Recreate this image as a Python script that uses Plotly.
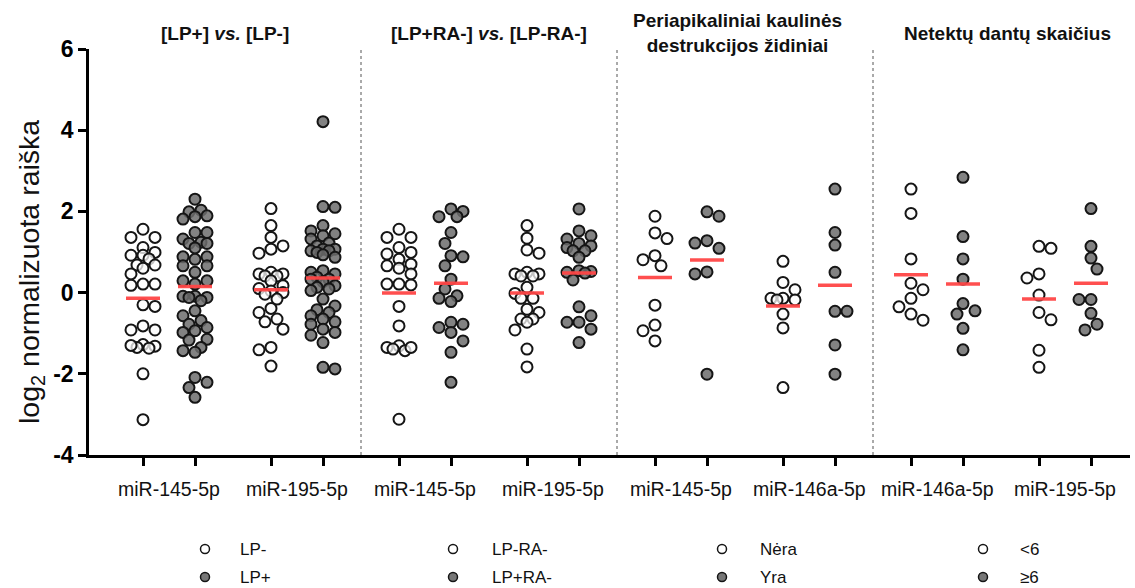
import plotly.graph_objects as go

# ---------------- data ----------------
panel_titles = [
    "[LP+] <i>vs.</i> [LP-]",
    "[LP+RA-] <i>vs.</i> [LP-RA-]",
    "Periapikaliniai kaulinės<br>destrukcijos židiniai",
    "Netektų dantų skaičius",
]
panel_genes = [
    ["miR-145-5p", "miR-195-5p"],
    ["miR-145-5p", "miR-195-5p"],
    ["miR-145-5p", "miR-146a-5p"],
    ["miR-146a-5p", "miR-195-5p"],
]
panel_groups = [
    ["LP-", "LP+"],
    ["LP-RA-", "LP+RA-"],
    ["Nėra", "Yra"],
    ["&lt;6", "≥6"],
]

# panel 1: [LP+] vs [LP-]
p1_mir145_lpneg = [1.56, 1.36, 1.36, 1.11, 0.99, 0.92, 0.92, 0.83, 0.68, 0.68, 0.60, 0.46, 0.21, 0.21, 0.18,
                   -0.30, -0.34, -0.82, -0.92, -0.92, -1.28, -1.32, -1.37, -1.35, -1.30, -2.00, -3.13]
p1_mir145_lppos = [2.30, 2.03, 1.99, 1.89, 1.87, 1.81, 1.48, 1.48, 1.32, 1.24, 1.21, 1.21, 1.10, 0.88, 0.82, 0.88,
                   0.66, 0.66, 0.50, 0.29, 0.29, 0.21, -0.09, -0.09, -0.12, -0.12, -0.20, -0.45, -0.57, -0.69,
                   -0.78, -0.86, -0.94, -0.98, -1.15, -1.17, -1.35, -1.43, -1.47, -2.09, -2.21, -2.34, -2.58]
p1_mir195_lpneg = [2.07, 1.65, 1.36, 1.15, 1.07, 0.97, 0.50, 0.46, 0.46, 0.41, 0.41, 0.29, 0.17, 0.10, 0.04,
                   0.00, -0.04, -0.16, -0.39, -0.49, -0.65, -0.72, -0.90, -1.35, -1.41, -1.81]
p1_mir195_lppos = [4.21, 2.12, 2.10, 1.65, 1.52, 1.45, 1.40, 1.32, 1.22, 1.15, 1.07, 1.07, 1.03, 1.03, 0.99,
                   0.93, 0.87, 0.54, 0.50, 0.46, 0.38, 0.33, 0.33, 0.27, 0.17, 0.13, 0.09, 0.05, -0.16, -0.33,
                   -0.42, -0.49, -0.57, -0.65, -0.72, -0.78, -0.90, -0.98, -1.05, -1.23, -1.84, -1.88]
# panel 2: [LP+RA-] vs [LP-RA-]
p2_mir145_neg = [1.56, 1.36, 1.36, 1.11, 0.99, 0.95, 0.82, 0.70, 0.66, 0.60, 0.46, 0.21, 0.21, 0.19,
                 -0.34, -0.82, -1.31, -1.35, -1.43, -1.35, -1.39, -3.12]
p2_mir145_pos = [2.06, 2.00, 1.87, 1.87, 1.48, 1.21, 0.91, 0.88, 0.66, 0.33, 0.09, -0.08, -0.14, -0.22,
                 -0.73, -0.78, -0.86, -0.98, -1.19, -1.47, -2.21]
p2_mir195_neg = [1.65, 1.34, 1.05, 0.97, 0.46, 0.50, 0.41, 0.46, 0.41, 0.13, -0.02, -0.14, -0.14, -0.41,
                 -0.49, -0.65, -0.65, -0.73, -0.92, -1.39, -1.83]
p2_mir195_pos = [2.06, 1.52, 1.40, 1.32, 1.21, 1.15, 1.11, 1.03, 1.03, 0.87, 0.54, 0.52, 0.48, 0.50, 0.31,
                 -0.35, -0.57, -0.73, -0.73, -0.90, -1.23]
# panel 3: periapical lesions
p3_mir145_no = [1.88, 1.47, 1.33, 0.91, 0.81, 0.66, -0.31, -0.80, -0.94, -1.19]
p3_mir145_yes = [1.99, 1.88, 1.28, 1.22, 1.09, 0.51, 0.46, -2.01]
p3_mir146a_no = [0.77, 0.25, 0.07, -0.14, -0.18, -0.14, -0.18, -0.53, -0.87, -2.34]
p3_mir146a_yes = [2.55, 1.48, 1.17, 0.50, -0.46, -0.46, -1.29, -2.01]
# panel 4: number of lost teeth
p4_mir146a_lt6 = [2.55, 1.95, 0.83, 0.23, 0.07, -0.14, -0.35, -0.53, -0.68]
p4_mir146a_ge6 = [2.84, 1.38, 0.83, 0.33, -0.27, -0.45, -0.53, -0.88, -1.41]
p4_mir195_lt6 = [1.09, 1.14, 0.46, 0.36, -0.06, -0.49, -0.67, -1.42, -1.84]
p4_mir195_ge6 = [2.07, 1.14, 0.85, 0.58, -0.17, -0.17, -0.51, -0.78, -0.92]

# group means (red bars)
p1_means = [-0.14, 0.15, 0.07, 0.36]
p2_means = [-0.01, 0.23, -0.01, 0.48]
p3_means = [0.37, 0.80, -0.33, 0.18]
p4_means = [0.44, 0.21, -0.16, 0.23]

y_ticks = [-4, -2, 0, 2, 4, 6]
y_tick_text = ["-4", "-2", "0", "2", "4", "6"]
y_title = "log<sub>2</sub> normalizuota raiška"

panels = [
    [p1_mir145_lpneg, p1_mir145_lppos, p1_mir195_lpneg, p1_mir195_lppos],
    [p2_mir145_neg, p2_mir145_pos, p2_mir195_neg, p2_mir195_pos],
    [p3_mir145_no, p3_mir145_yes, p3_mir146a_no, p3_mir146a_yes],
    [p4_mir146a_lt6, p4_mir146a_ge6, p4_mir195_lt6, p4_mir195_ge6],
]
panel_means = [p1_means, p2_means, p3_means, p4_means]

# ---------------- layout geometry ----------------
W, H = 1135, 588
ML, MR, MT, MB = 89, 5, 49, 133
X0, X1 = -16, 1025            # x axis range (1 unit = 1 px)
YMIN, YMAX = -4, 6
PX_PER_UNIT = (H - MT - MB) / (YMAX - YMIN)
PANEL_W = 256
COL_OFF = [38, 90, 166, 218]
PAIR_OFF = [64, 192]

OPEN_FILL = "rgba(252,252,252,0.75)"
GRAY_FILL = "rgba(108,108,108,0.85)"
EDGE = "#151515"
RED = "rgba(255,70,70,0.95)"
FONT = "Arial, Liberation Sans, sans-serif"


def swarm(values, d=11.0, step=6.0, max_slot=2):
    """GraphPad-like scatter spreading: horizontal offsets (px) in slots of `step`."""
    order = sorted(range(len(values)), key=lambda i: -values[i])
    placed = []
    offs = [0.0] * len(values)
    for i in order:
        y = values[i] * PX_PER_UNIT
        bias = sum(p[0] for p in placed)
        cands = [0.0]
        for m in range(1, max_slot + 1):
            cands += [-m * step, m * step] if bias > 0 else [m * step, -m * step]

        def mind(c):
            if not placed:
                return 1e9
            return min(((c - px) ** 2 + (y - py) ** 2) ** 0.5 for px, py in placed)

        chosen = None
        for c in cands:
            if mind(c) >= d:
                chosen = c
                break
        if chosen is None:
            chosen = max(cands, key=lambda c: (round(mind(c), 3), -abs(c)))
        offs[i] = chosen
        placed.append((chosen, y))
    return offs


fig = go.Figure()

mean_x, mean_y = [], []
tick_positions = []
for p, cols in enumerate(panels):
    for c, vals in enumerate(cols):
        center = p * PANEL_W + COL_OFF[c]
        tick_positions.append(center)
        offs = swarm(vals)
        is_open = (c % 2 == 0)
        fig.add_trace(go.Scatter(
            x=[center + o for o in offs], y=vals, mode="markers",
            marker=dict(size=11, color=OPEN_FILL if is_open else GRAY_FILL,
                        line=dict(color=EDGE, width=2)),
            showlegend=False, hoverinfo="y",
            name=f"{panel_genes[p][c // 2]} {panel_groups[p][c % 2]}",
        ))
        m = panel_means[p][c]
        mean_x += [center - 17, center + 17, None]
        mean_y += [m, m, None]

fig.add_trace(go.Scatter(x=mean_x, y=mean_y, mode="lines",
                         line=dict(color=RED, width=3.5), showlegend=False, hoverinfo="skip"))

shapes = []
annotations = []
# dotted panel dividers
for p in range(1, 4):
    shapes.append(dict(type="line", xref="x", yref="y", x0=p * PANEL_W, x1=p * PANEL_W,
                       y0=YMIN, y1=YMAX, line=dict(color="#555", width=1, dash="dot"), layer="below"))

plot_h = H - MT - MB


def py2paper(py):
    return (H - MB - py) / plot_h


title_x = [225 - 105, 489 - 105, 737 - 105, 1007 - 105]
for p in range(4):
    annotations.append(dict(text=f"<b>{panel_titles[p]}</b>", x=title_x[p], xref="x",
                            y=py2paper(33), yref="paper", showarrow=False,
                            xanchor="center", yanchor="middle",
                            font=dict(family=FONT, size=19, color="#111")))
    for g in range(2):
        annotations.append(dict(text=panel_genes[p][g], x=p * PANEL_W + PAIR_OFF[g], xref="x",
                                y=py2paper(489), yref="paper", showarrow=False,
                                xanchor="center", yanchor="middle",
                                font=dict(family=FONT, size=19.5, color="#111")))

# bottom legends (one per panel)
legend_marker_x = [205, 453, 722, 983]
legend_text_x = [238, 490, 758, 1018]
legend_rows = [549, 577]
for p in range(4):
    for k in range(2):
        shapes.append(dict(type="circle", xref="x", yref="paper", xsizemode="pixel", ysizemode="pixel",
                           xanchor=legend_marker_x[p] - 105, yanchor=py2paper(legend_rows[k]),
                           x0=-4.5, x1=4.5, y0=-4.5, y1=4.5,
                           fillcolor="white" if k == 0 else "#777",
                           line=dict(color=EDGE, width=1.5)))
        annotations.append(dict(text=panel_groups[p][k], x=legend_text_x[p] - 105, xref="x",
                                y=py2paper(legend_rows[k]), yref="paper", showarrow=False,
                                xanchor="left", yanchor="middle",
                                font=dict(family=FONT, size=17, color="#111")))

# y axis title
annotations.append(dict(text=y_title, x=(31 - ML) / (W - ML - MR), xref="paper",
                        y=py2paper(272), yref="paper", showarrow=False, textangle=-90,
                        xanchor="center", yanchor="middle",
                        font=dict(family=FONT, size=28.5, color="#111")))

fig.update_layout(
    width=W, height=H,
    margin=dict(l=ML, r=MR, t=MT, b=MB, pad=0),
    plot_bgcolor="white", paper_bgcolor="white",
    shapes=shapes, annotations=annotations,
    showlegend=False,
    xaxis=dict(range=[X0, X1], showgrid=False, zeroline=False, showline=True,
               linecolor="black", linewidth=2.5, ticks="outside", ticklen=8, tickwidth=2.5,
               tickcolor="black", tickvals=tick_positions, showticklabels=False,
               fixedrange=True),
    yaxis=dict(range=[YMIN, YMAX], showgrid=False, zeroline=False, showline=True,
               linecolor="black", linewidth=2.5, ticks="outside", ticklen=8, tickwidth=2.5,
               tickcolor="black", tickvals=y_ticks, ticktext=y_tick_text,
               tickfont=dict(family=FONT, size=23, color="black", weight="bold"),
               fixedrange=True),
)

fig.write_html("out.html", config={"displayModeBar": False},
               post_script="document.body.style.margin='0px';")
